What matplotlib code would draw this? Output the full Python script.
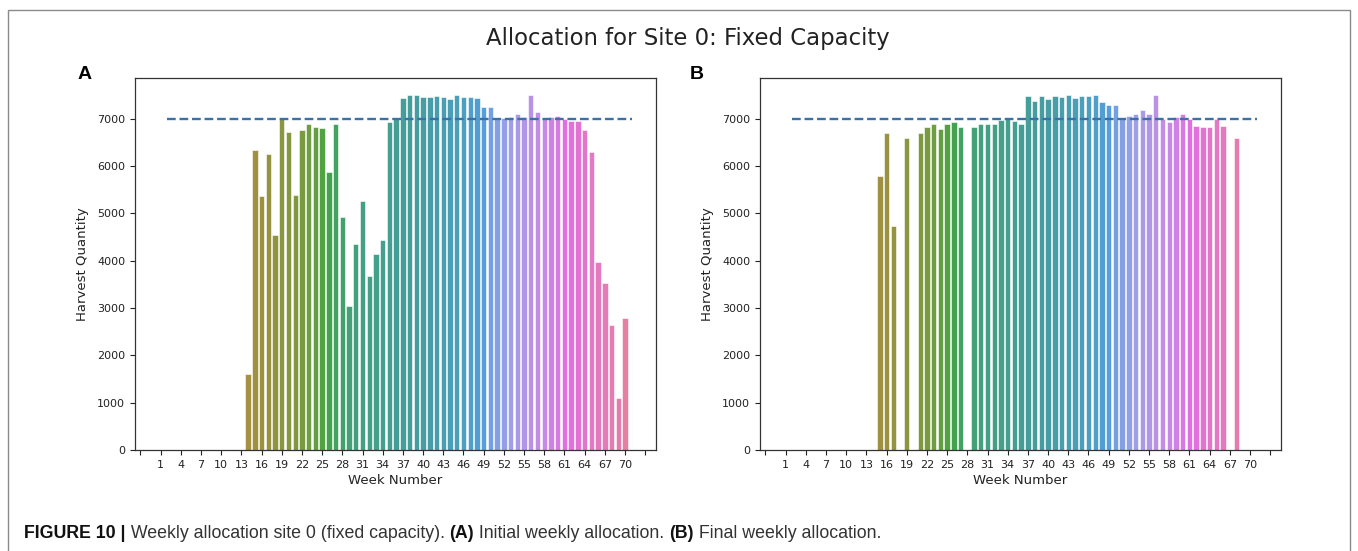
import numpy as np
import matplotlib
matplotlib.use("Agg")
import matplotlib.pyplot as plt
import seaborn as sns
from matplotlib.patches import Rectangle

# ---------------- data ----------------
weeks = list(range(1, 71))
capacity = 7000

alloc_initial = [0] * 13 + [
    1600, 6350, 5360, 6250, 4540, 7000, 6720, 5385, 6760, 6900,   # 14-23
    6830, 6800, 5870, 6900, 4925, 3040, 4360, 5260, 3670, 4150,   # 24-33
    4440, 6930, 7010, 7450, 7510, 7500, 7460, 7460, 7480, 7460,   # 34-43
    7410, 7500, 7460, 7460, 7430, 7240, 7240, 7000, 7020, 7040,   # 44-53
    7100, 7040, 7510, 7140, 7000, 7040, 7070, 7000, 6950, 6950,   # 54-63
    6760, 6300, 3970, 3520, 2640, 1090, 2780]                     # 64-70

alloc_final = [0] * 14 + [
    5790, 6710, 4730, 0, 6590, 0, 6710, 6830, 6900,               # 15-23
    6780, 6900, 6930, 6830, 0, 6830, 6900, 6900, 6900, 6980,      # 24-33
    7010, 6960, 6900, 7480, 7380, 7480, 7410, 7480, 7460, 7500,   # 34-43
    7430, 7480, 7480, 7500, 7360, 7290, 7290, 7000, 7070, 7100,   # 44-53
    7180, 7100, 7500, 6990, 6930, 7040, 7100, 7000, 6850, 6830,   # 54-63
    6830, 6990, 6850, 0, 6590, 0, 0]                              # 64-70

tick_weeks = list(range(-2, 74, 3))
tick_labels = ["" if (w < 1 or w > 70) else str(w) for w in tick_weeks]

title = "Allocation for Site 0: Fixed Capacity"
panel_labels = ["A", "B"]
caption_parts = [("FIGURE 10 |", "bold", "#111111"),
                 (" Weekly allocation site 0 (fixed capacity). ", "normal", "#333333"),
                 ("(A)", "bold", "#111111"),
                 (" Initial weekly allocation. ", "normal", "#333333"),
                 ("(B)", "bold", "#111111"),
                 (" Final weekly allocation.", "normal", "#333333")]

# ---------------- figure ----------------
W, H = 1358, 551
fig = plt.figure(figsize=(W / 100, H / 100), dpi=100)
fig.patch.set_facecolor("white")

pal = sns.husl_palette(71)
colors = [sns.desaturate(pal[w - 1], 0.75) for w in weeks]

def px_axes(l, r, t, b):
    return [l / W, 1 - b / H, (r - l) / W, (b - t) / H]

axes_boxes = [px_axes(135, 656, 78, 450), px_axes(760, 1281, 78, 450)]
datasets = [alloc_initial, alloc_final]

for box, data, lab, lx in zip(axes_boxes, datasets, panel_labels, [78, 690]):
    ax = fig.add_axes(box)
    ax.bar(weeks, data, width=0.8, color=colors, edgecolor="white", linewidth=0.4)
    ax.plot([weeks[1], weeks[-1] + 1], [capacity, capacity], ls="--", color="#3a72a8", lw=1.7)
    ax.set_xlim(-2.8, 74.6)
    ax.set_ylim(0, max(max(alloc_initial), max(alloc_final)) * 1.047)
    ax.set_yticks(range(0, 8000, 1000))
    ax.set_xticks(tick_weeks)
    ax.set_xticklabels(tick_labels)
    ax.tick_params(labelsize=8, colors="#222222", length=3.5, width=0.8)
    for s in ax.spines.values():
        s.set_color("#333333")
        s.set_linewidth(0.9)
    ax.set_xlabel("Week Number", fontsize=9.5, color="#222222", labelpad=3)
    ax.set_ylabel("Harvest Quantity", fontsize=9.5, color="#222222", labelpad=6)
    fig.text(lx / W, 1 - 75 / H, lab, fontsize=14, fontweight="bold",
             family="Liberation Sans", ha="left", va="center")

fig.text(688 / W, 1 - 38 / H, title, fontsize=16.4, ha="center", va="center", color="#222222")

# border frame
fig.add_artist(Rectangle((8 / W, -0.02), (1350 - 8) / W, 1 - 10 / H + 0.02,
                         transform=fig.transFigure, fill=False, edgecolor="#8a8a8a", lw=1.0))

# caption with mixed weights
fig.canvas.draw()
renderer = fig.canvas.get_renderer()
x = 24 / W
y = 1 - 534 / H
for txt, wt, col in caption_parts:
    t = fig.text(x, y, txt, fontsize=12.8, fontweight=wt, family="Liberation Sans",
                 color=col, ha="left", va="center")
    bb = t.get_window_extent(renderer=renderer)
    x += bb.width / W

fig.savefig("out.png", dpi=100, facecolor="white")
